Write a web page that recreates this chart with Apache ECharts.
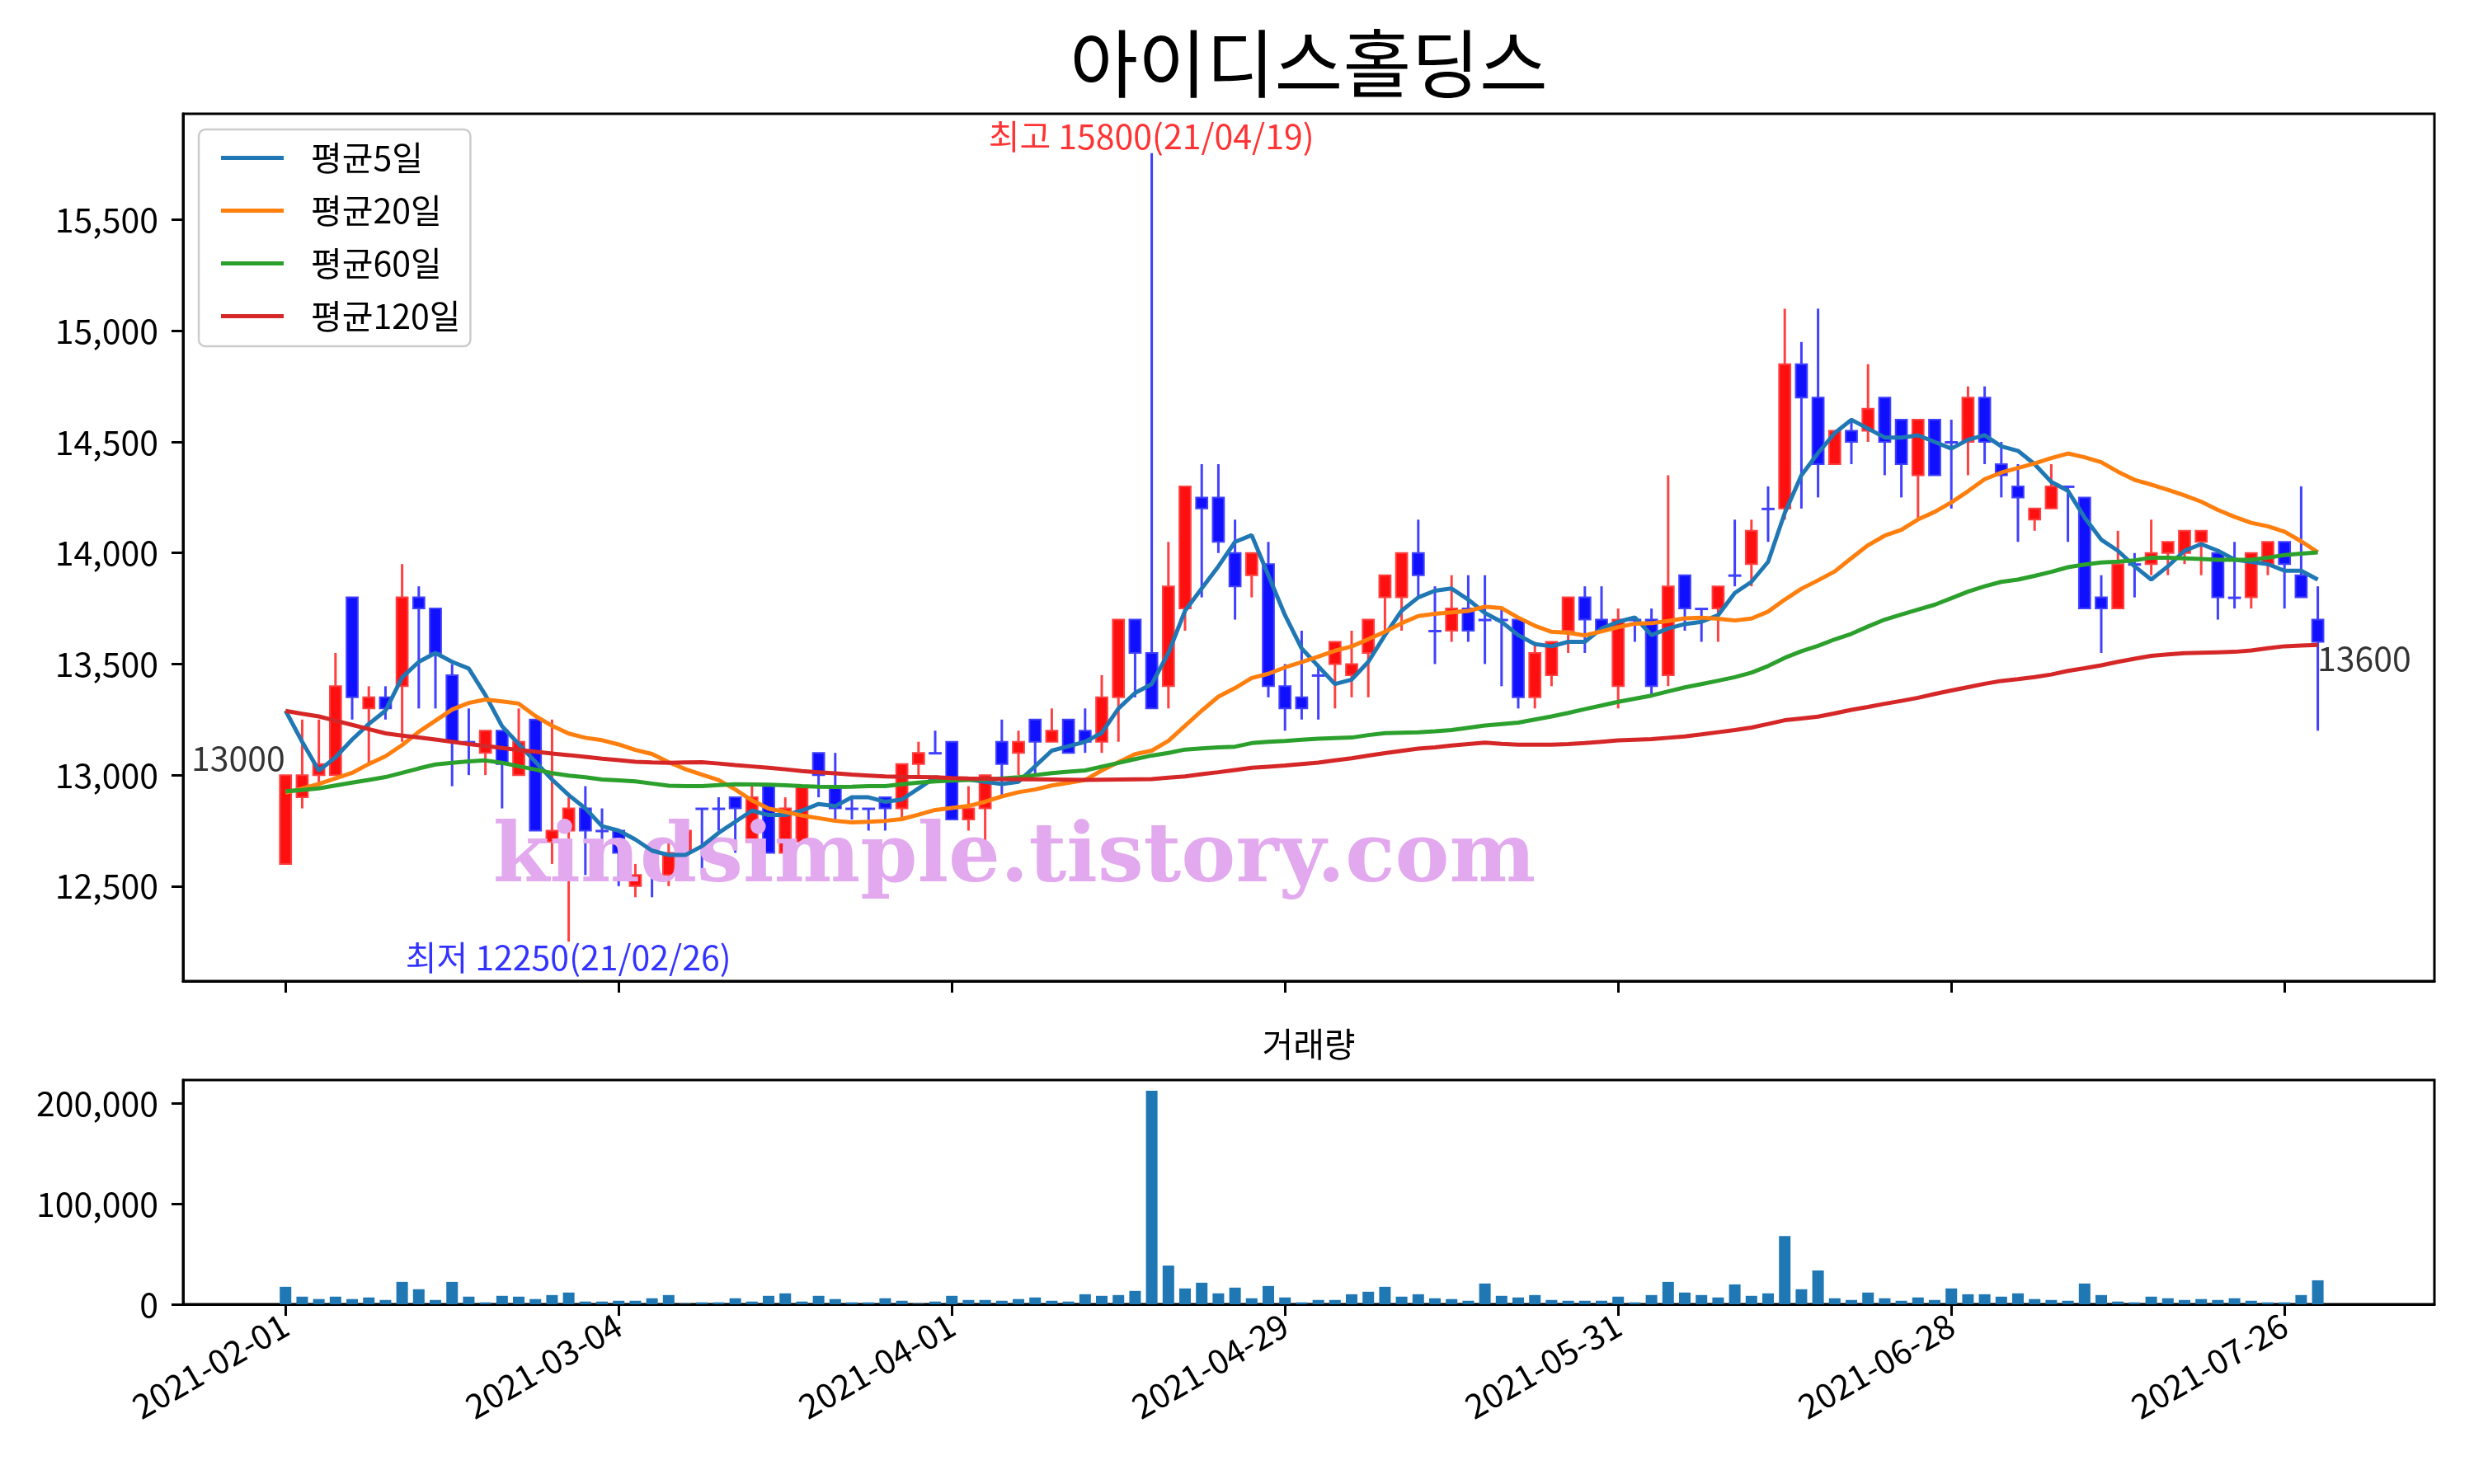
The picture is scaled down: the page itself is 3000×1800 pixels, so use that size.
<!DOCTYPE html>
<html>
<head>
<meta charset="utf-8">
<script src="https://cdn.jsdelivr.net/npm/echarts@6/dist/echarts.min.js"></script>
<style>html,body{margin:0;padding:0;background:#fff}#chart{width:3000px;height:1800px}</style>
</head>
<body>
<div id="chart"></div>
<script>
const dates = [
 '2021-02-01','2021-02-02','2021-02-03','2021-02-04','2021-02-05','2021-02-08','2021-02-09','2021-02-10',
 '2021-02-15','2021-02-16','2021-02-17','2021-02-18','2021-02-19','2021-02-22','2021-02-23','2021-02-24','2021-02-25','2021-02-26',
 '2021-03-02','2021-03-03','2021-03-04','2021-03-05','2021-03-08','2021-03-09','2021-03-10','2021-03-11','2021-03-12',
 '2021-03-15','2021-03-16','2021-03-17','2021-03-18','2021-03-19','2021-03-22','2021-03-23','2021-03-24','2021-03-25','2021-03-26',
 '2021-03-29','2021-03-30','2021-03-31',
 '2021-04-01','2021-04-02','2021-04-05','2021-04-06','2021-04-07','2021-04-08','2021-04-09','2021-04-12','2021-04-13','2021-04-14',
 '2021-04-15','2021-04-16','2021-04-19','2021-04-20','2021-04-21','2021-04-22','2021-04-23','2021-04-26','2021-04-27','2021-04-28',
 '2021-04-29','2021-04-30',
 '2021-05-03','2021-05-04','2021-05-06','2021-05-07','2021-05-10','2021-05-11','2021-05-12','2021-05-13','2021-05-14',
 '2021-05-17','2021-05-18','2021-05-20','2021-05-21','2021-05-24','2021-05-25','2021-05-26','2021-05-27','2021-05-28','2021-05-31',
 '2021-06-01','2021-06-02','2021-06-03','2021-06-04','2021-06-07','2021-06-08','2021-06-09','2021-06-10','2021-06-11',
 '2021-06-14','2021-06-15','2021-06-16','2021-06-17','2021-06-18','2021-06-21','2021-06-22','2021-06-23','2021-06-24','2021-06-25',
 '2021-06-28','2021-06-29','2021-06-30',
 '2021-07-01','2021-07-02','2021-07-05','2021-07-06','2021-07-07','2021-07-08','2021-07-09','2021-07-12','2021-07-13','2021-07-14',
 '2021-07-15','2021-07-16','2021-07-19','2021-07-20','2021-07-21','2021-07-22','2021-07-23','2021-07-26','2021-07-27','2021-07-28'
];
const opens = [
 12600,12900,13000,13000,13800,13300,13350,13400,13800,13750,
 13450,13150,13100,13200,13000,13250,12700,12750,12850,12750,
 12750,12500,12600,12550,12650,12850,12850,12900,12700,12950,
 12650,12700,13100,12950,12850,12850,12900,12850,13050,13100,
 13150,12800,12850,13150,13100,13250,13150,13250,13200,13150,
 13350,13700,13550,13400,13750,14250,14250,14000,13900,13950,
 13400,13350,13450,13500,13450,13550,13800,13800,14000,13650,
 13650,13750,13700,13700,13700,13350,13450,13650,13800,13700,
 13400,13700,13700,13450,13900,13750,13750,13900,13950,14200,
 14200,14850,14700,14400,14550,14550,14700,14600,14350,14600,
 14500,14500,14700,14400,14300,14150,14200,14300,14250,13800,
 13750,13950,13950,14000,14000,14050,14000,13800,13800,13950,
 14050,13900,13700
];
const closes = [
 13000,13000,13050,13400,13350,13350,13300,13800,13750,13550,
 13150,13150,13200,13050,13150,12750,12750,12850,12750,12750,
 12650,12550,12600,12650,12750,12850,12850,12850,12900,12650,
 12850,12950,13000,12850,12850,12850,12850,13050,13100,13100,
 12800,12850,13000,13050,13150,13150,13200,13100,13150,13350,
 13700,13550,13300,13850,14300,14200,14050,13850,14000,13400,
 13300,13300,13450,13600,13500,13700,13900,14000,13900,13650,
 13750,13650,13700,13700,13350,13550,13600,13800,13700,13650,
 13700,13700,13400,13850,13750,13750,13850,13900,14100,14200,
 14850,14700,14400,14550,14500,14650,14500,14400,14600,14350,
 14500,14700,14500,14350,14250,14200,14300,14300,13750,13750,
 13950,13950,14000,14050,14100,14100,13800,13800,14000,14050,
 13950,13800,13600
];
const lows = [
 12600,12850,12950,13000,13250,13050,13250,13150,13300,13300,
 12950,13000,13000,12850,13000,12750,12600,12250,12550,12700,
 12500,12450,12450,12500,12600,12550,12750,12650,12700,12650,
 12650,12700,12900,12800,12800,12750,12750,12800,13000,13100,
 12800,12750,12700,12900,13000,13000,13150,13100,13100,13100,
 13150,13350,13300,13300,13650,13800,14000,13700,13800,13350,
 13200,13250,13250,13300,13350,13350,13650,13650,13800,13500,
 13600,13600,13500,13400,13300,13300,13400,13550,13550,13650,
 13300,13600,13350,13400,13650,13600,13600,13850,13850,14050,
 14150,14200,14250,14400,14400,14500,14350,14250,14150,14350,
 14200,14350,14400,14250,14050,14100,14200,14050,13750,13550,
 13750,13800,13900,13900,13950,13900,13700,13750,13750,13900,
 13750,13800,13200
];
const highs = [
 13000,13250,13250,13550,13800,13400,13400,13950,13850,13750,
 13500,13300,13200,13200,13300,13250,13250,12900,12950,12850,
 12750,12600,12700,12700,12800,12850,12900,12900,12950,12950,
 12900,12950,13100,13100,12900,12850,12900,13050,13150,13200,
 13150,12950,13000,13250,13200,13250,13300,13250,13300,13450,
 13700,13700,15800,14050,14300,14400,14400,14150,14000,14050,
 13500,13650,13500,13600,13650,13700,13900,14000,14150,13850,
 13900,13900,13900,13750,13700,13600,13600,13800,13850,13850,
 13750,13700,13750,14350,13900,13750,13850,14150,14150,14300,
 15100,14950,15100,14550,14600,14850,14700,14600,14600,14600,
 14600,14750,14750,14500,14400,14200,14400,14300,14250,13900,
 14100,14000,14150,14050,14100,14100,14000,14050,14000,14050,
 14050,14300,13850
];
const volumes = [
 17400,7600,5200,7600,5200,6800,4300,22300,15000,4300,
 22300,7600,1900,8400,7600,5200,9200,11700,2700,2700,
 3500,3500,6000,9200,500,1900,1900,6000,2700,8400,
 10900,2700,8400,5200,1900,1900,6000,3500,500,2700,
 8400,4300,4300,3500,5200,6800,3500,2700,10000,8400,
 9200,13300,213000,38600,15800,21500,10900,16600,6000,18200,
 6800,1900,4300,4300,10000,12500,17400,7600,10000,6000,
 5200,3500,20700,8400,6800,9200,4300,3500,3500,3500,
 7600,1900,9200,22300,11700,9200,6800,19800,8400,10900,
 68000,15000,33700,6000,4300,11700,6000,3500,6800,4300,
 15800,10000,10000,7600,10900,5200,4300,3500,20700,9200,
 2700,1900,7600,6000,4300,5200,4300,6000,3500,1900,
 1900,9200,23900
];
const ma5 = [
 13290,13150,13020,13080,13160,13230,13290,13440,13510,13550,
 13510,13480,13360,13220,13140,13060,12980,12910,12850,12770,
 12750,12710,12660,12640,12640,12680,12740,12790,12840,12820,
 12820,12840,12870,12860,12900,12900,12880,12890,12940,12990,
 12980,12980,12970,12960,12970,13040,13110,13130,13150,13190,
 13300,13370,13410,13550,13740,13840,13940,14050,14080,13900,
 13720,13570,13490,13410,13430,13510,13630,13740,13800,13830,
 13840,13790,13730,13690,13630,13590,13580,13600,13600,13660,
 13690,13710,13630,13660,13680,13690,13720,13820,13870,13960,
 14180,14350,14450,14540,14600,14560,14520,14520,14530,14500,
 14470,14510,14530,14480,14460,14400,14320,14280,14160,14060,
 14010,13940,13880,13940,14010,14040,14010,13970,13960,13950,
 13920,13920,13880
];
const ma20 = [
 12920,12940,12960,12985,13010,13050,13085,13135,13195,13245,
 13295,13325,13340,13332,13322,13266,13222,13187,13168,13157,
 13138,13113,13095,13058,13027,13002,12978,12935,12886,12849,
 12834,12818,12806,12794,12787,12790,12794,12802,12822,12843,
 12852,12861,12880,12904,12923,12935,12953,12965,12978,13021,
 13058,13094,13110,13154,13222,13290,13353,13392,13437,13456,
 13485,13509,13534,13560,13579,13612,13645,13684,13716,13726,
 13733,13739,13758,13752,13709,13672,13645,13641,13629,13647,
 13666,13682,13684,13694,13706,13709,13704,13696,13705,13736,
 13790,13839,13877,13917,13977,14035,14078,14104,14151,14185,
 14228,14278,14332,14362,14383,14403,14427,14448,14431,14409,
 14366,14329,14308,14284,14259,14231,14194,14163,14136,14120,
 14096,14053,14003
];
const ma60 = [
 12927,12933,12940,12953,12966,12978,12991,13010,13030,13048,
 13055,13062,13066,13055,13040,13025,13009,12998,12990,12980,
 12976,12972,12962,12952,12950,12950,12955,12959,12958,12957,
 12954,12950,12948,12947,12948,12950,12950,12959,12966,12972,
 12975,12978,12980,12985,12990,13000,13009,13015,13021,13038,
 13055,13072,13088,13100,13115,13120,13125,13128,13144,13150,
 13154,13159,13164,13167,13169,13180,13189,13191,13193,13197,
 13203,13213,13223,13230,13236,13250,13264,13280,13297,13313,
 13330,13344,13358,13377,13395,13410,13425,13441,13461,13491,
 13528,13558,13582,13611,13636,13669,13700,13723,13745,13767,
 13796,13826,13850,13870,13880,13897,13915,13936,13948,13957,
 13961,13967,13979,13979,13976,13973,13969,13969,13969,13979,
 13991,13997,14003
];
const ma120 = [
 13289,13276,13264,13245,13226,13207,13188,13178,13169,13160,
 13150,13140,13131,13122,13113,13105,13097,13090,13082,13074,
 13067,13060,13057,13055,13057,13058,13052,13045,13039,13033,
 13026,13018,13013,13008,13002,12998,12994,12992,12991,12990,
 12987,12985,12984,12982,12981,12981,12980,12979,12978,12979,
 12980,12981,12982,12988,12994,13004,13013,13023,13033,13038,
 13043,13050,13056,13066,13076,13088,13099,13109,13119,13125,
 13133,13140,13146,13141,13137,13137,13137,13140,13144,13150,
 13156,13159,13162,13168,13174,13183,13193,13203,13214,13230,
 13247,13255,13263,13278,13294,13307,13321,13334,13348,13365,
 13381,13396,13411,13424,13432,13441,13453,13469,13481,13494,
 13510,13524,13537,13543,13549,13551,13553,13555,13561,13571,
 13580,13583,13586
];
const priceTicks = [12500, 13000, 13500, 14000, 14500, 15000, 15500];
const volumeTicks = [0, 100000, 200000];
const dateTickIdx = [0, 20, 40, 60, 80, 100, 120];
const seriesNames = ['평균5일', '평균20일', '평균60일', '평균120일'];
const maColors = ['#1f77b4', '#ff7f0e', '#2ca02c', '#d62728'];

const FONT = '"Noto Sans CJK KR", "Noto Sans", sans-serif';
const chart = echarts.init(document.getElementById('chart'), null, {width: 3000, height: 1800, renderer: 'canvas'});

const candleData = dates.map((d, i) => [i, opens[i], closes[i], lows[i], highs[i]]);
const volData = volumes.map((v, i) => [i, v]);
const maArrays = [ma5, ma20, ma60, ma120];

let hiIdx = 0, loIdx = 0;
highs.forEach((h, i) => { if (h > highs[hiIdx]) hiIdx = i; });
lows.forEach((l, i) => { if (l < lows[loIdx]) loIdx = i; });
const shortDate = s => s.slice(2).replace(/-/g, '/');
const last = closes.length - 1;

function renderCandle(params, api) {
  const x = api.value(0), o = api.value(1), c = api.value(2), l = api.value(3), h = api.value(4);
  const up = c > o;
  const pO = api.coord([x, o]), pC = api.coord([x, c]), pL = api.coord([x, l]), pH = api.coord([x, h]);
  const w = api.size([1, 0])[0] * 0.68;
  const top = Math.min(pO[1], pC[1]);
  const hgt = Math.max(Math.abs(pO[1] - pC[1]), 1);
  const fill = up ? '#ff1010' : '#1010ff';
  const edge = up ? '#ff4040' : '#4040ff';
  return {
    type: 'group',
    children: [
      {type: 'line', shape: {x1: pH[0], y1: pH[1], x2: pL[0], y2: pL[1]}, style: {stroke: edge, lineWidth: 3}},
      {type: 'rect', shape: {x: pO[0] - w / 2, y: top, width: w, height: hgt}, style: {fill: fill, stroke: edge, lineWidth: 2}}
    ]
  };
}

const tickStyle = {color: '#000', width: 3};
const axLine = {show: true, onZero: false, lineStyle: {color: '#000', width: 3}};
const option = {
  animation: false,
  backgroundColor: '#ffffff',
  textStyle: {fontFamily: FONT},
  grid: [
    {left: 222, right: 48, top: 138, height: 1052, show: true, borderColor: '#000', borderWidth: 3, backgroundColor: 'rgba(0,0,0,0)'},
    {left: 222, right: 48, top: 1310, height: 272, show: true, borderColor: '#000', borderWidth: 3, backgroundColor: 'rgba(0,0,0,0)'}
  ],
  xAxis: [
    {type: 'value', gridIndex: 0, position: 'bottom', min: -6.15, max: 129, axisLine: axLine, splitLine: {show: false},
     axisTick: {show: true, inside: false, customValues: dateTickIdx, length: 14, lineStyle: tickStyle},
     axisLabel: {show: false}},
    {type: 'value', gridIndex: 1, position: 'bottom', min: -6.15, max: 129, axisLine: axLine, splitLine: {show: false},
     axisTick: {show: true, inside: false, customValues: dateTickIdx, length: 14, lineStyle: tickStyle},
     axisLabel: {show: true, customValues: dateTickIdx, formatter: v => dates[Math.round(v)] || '', rotate: 30, margin: 22, fontSize: 41, color: '#000', fontFamily: FONT}}
  ],
  yAxis: [
    {type: 'value', gridIndex: 0, position: 'left', min: 12072.5, max: 15977.5, axisLine: axLine, splitLine: {show: false},
     axisTick: {show: true, inside: false, customValues: priceTicks, length: 14, lineStyle: tickStyle},
     axisLabel: {show: true, customValues: priceTicks, formatter: v => Number(v).toLocaleString('en-US'), margin: 30, fontSize: 41, color: '#000', fontFamily: FONT}},
    {type: 'value', gridIndex: 1, position: 'left', min: 0, max: 223600, axisLine: axLine, splitLine: {show: false},
     axisTick: {show: true, inside: false, customValues: volumeTicks, length: 14, lineStyle: tickStyle},
     axisLabel: {show: true, customValues: volumeTicks, formatter: v => Number(v).toLocaleString('en-US'), margin: 30, fontSize: 41, color: '#000', fontFamily: FONT}}
  ],
  legend: {
    orient: 'vertical', left: 241, top: 157, data: seriesNames, selectedMode: false,
    icon: 'rect', itemWidth: 76, itemHeight: 5, itemGap: 23,
    padding: [14, 12, 16, 27],
    borderColor: '#cccccc', borderWidth: 2.5, borderRadius: 8, backgroundColor: 'rgba(255,255,255,0.8)',
    textStyle: {fontSize: 41, color: '#000', lineHeight: 40, fontFamily: FONT, padding: [0, 0, 0, 28]}
  },
  graphic: [
    {type: 'text', x: 1587, y: 77, z: 10, style: {text: '아이디스홀딩스', font: '90px ' + FONT, fill: '#000', align: 'center', verticalAlign: 'middle', textAlign: 'center', textVerticalAlign: 'middle'}},
    {type: 'text', x: 1587, y: 1266, z: 10, style: {text: '거래량', font: '41px ' + FONT, fill: '#000', align: 'center', verticalAlign: 'middle', textAlign: 'center', textVerticalAlign: 'middle'}},
    {type: 'text', x: 1230, y: 1043, z: 3, style: {text: 'kindsimple.tistory.com', font: 'bold 99px "DejaVu Serif"', fill: '#e2a9ee', align: 'center', verticalAlign: 'middle', textAlign: 'center', textVerticalAlign: 'middle'}}
  ],
  series: [
    {type: 'custom', name: 'candle', xAxisIndex: 0, yAxisIndex: 0, renderItem: renderCandle, data: candleData, z: 2, clip: true, silent: true},
    ...maArrays.map((arr, k) => ({
      type: 'line', name: seriesNames[k], xAxisIndex: 0, yAxisIndex: 0,
      data: arr.map((v, i) => [i, v]), symbol: 'none', showSymbol: false, z: 5 + k,
      lineStyle: {color: maColors[k], width: 5}, itemStyle: {color: maColors[k]}
    })),
    {type: 'bar', name: 'volume', xAxisIndex: 1, yAxisIndex: 1, data: volData, barWidth: 14, itemStyle: {color: '#1f77b4'}, silent: true},
    {type: 'scatter', name: 'annot', xAxisIndex: 0, yAxisIndex: 0, symbolSize: 1, z: 20, silent: true,
     itemStyle: {color: 'rgba(0,0,0,0)'},
     data: [
       {value: [hiIdx, highs[hiIdx]], label: {show: true, formatter: '최고 ' + highs[hiIdx] + '(' + shortDate(dates[hiIdx]) + ')', color: '#ff0000', position: [0, 0], align: 'center', verticalAlign: 'bottom', fontSize: 41, lineHeight: 40, fontFamily: FONT}},
       {value: [loIdx, lows[loIdx]], label: {show: true, formatter: '최저 ' + lows[loIdx] + '(' + shortDate(dates[loIdx]) + ')', color: '#0000ff', position: [0, 0], align: 'center', verticalAlign: 'top', fontSize: 41, lineHeight: 40, fontFamily: FONT}},
       {value: [0, closes[0]], label: {show: true, formatter: String(closes[0]), color: '#000', position: [0, 0], align: 'right', verticalAlign: 'bottom', fontSize: 41, lineHeight: 40, fontFamily: FONT}},
       {value: [last, closes[last]], label: {show: true, formatter: String(closes[last]), color: '#000', position: [0, 0], align: 'left', verticalAlign: 'top', fontSize: 41, lineHeight: 40, fontFamily: FONT}}
     ]}
  ]
};
chart.setOption(option);
</script>
</body>
</html>
